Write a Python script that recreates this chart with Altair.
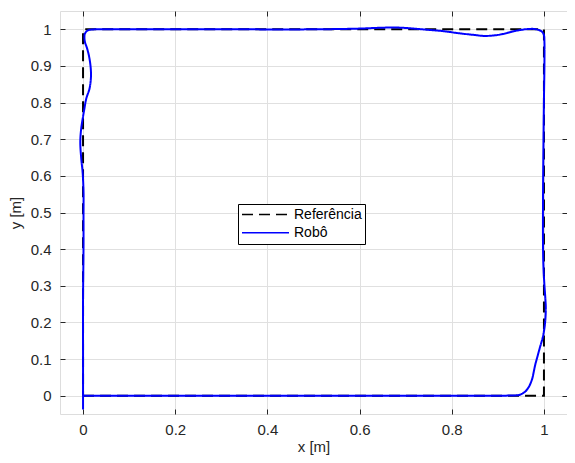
import altair as alt
import pandas as pd

# ---- data ----
series_names = ["Referência", "Robô"]

ref_x = [0.0, 1.0, 1.0, 0.0, 0.0]
ref_y = [0.0, 0.0, 1.0, 1.0, 0.0]

robot_x = [0.0, 0.5, 0.9, 0.94, 0.949, 0.960, 0.968, 0.974, 0.978, 0.981, 0.987,
           0.992, 0.997, 1.001, 1.003, 1.004, 1.003, 1.001, 0.999, 0.998, 0.998,
           0.999, 1.0, 1.001, 1.001, 1.0, 0.996, 0.989, 0.978, 0.968, 0.953, 0.932,
           0.910, 0.889, 0.868, 0.846, 0.817, 0.782, 0.746, 0.717, 0.696, 0.674,
           0.64, 0.6, 0.5, 0.3, 0.1, 0.03, 0.016, 0.009, 0.004, 0.003, 0.004,
           0.009, 0.014, 0.017, 0.017, 0.014, 0.007, 0.003, 0.0, -0.004, -0.006,
           -0.004, -0.001, 0.001, 0.001, 0.001, 0.0, 0.0, 0.0]
robot_y = [0.0, 0.0, 0.0, 0.001, 0.003, 0.012, 0.026, 0.044, 0.066, 0.084, 0.112,
           0.135, 0.157, 0.184, 0.207, 0.239, 0.266, 0.302, 0.348, 0.402, 0.55,
           0.7, 0.811, 0.902, 0.966, 0.984, 0.993, 0.998, 1.001, 1.001, 0.999, 0.994,
           0.987, 0.983, 0.982, 0.985, 0.989, 0.995, 0.999, 1.002, 1.004, 1.005,
           1.004, 1.002, 1.0, 1.0, 1.0, 1.0, 0.999, 0.996, 0.988, 0.979, 0.966,
           0.947, 0.920, 0.888, 0.866, 0.838, 0.811, 0.784, 0.762, 0.729, 0.693,
           0.648, 0.611, 0.557, 0.493, 0.402, 0.266, 0.1, -0.038]

x_ticks = [0, 0.2, 0.4, 0.6, 0.8, 1]
y_ticks = [0, 0.1, 0.2, 0.3, 0.4, 0.5, 0.6, 0.7, 0.8, 0.9, 1]

ref_df = pd.DataFrame({"x": ref_x, "y": ref_y, "serie": series_names[0],
                       "ordem": list(range(len(ref_x)))})
rob_df = pd.DataFrame({"x": robot_x, "y": robot_y, "serie": series_names[1],
                       "ordem": list(range(len(robot_x)))})

FONT = "Liberation Sans"
W, H = 507, 403

xscale = alt.Scale(domain=[-0.05, 1.05], nice=False, zero=False)
yscale = alt.Scale(domain=[-0.05, 1.05], nice=False, zero=False)

legend = alt.Legend(
    title=None, orient="none", legendX=178, legendY=193, direction="vertical",
    symbolType="stroke", symbolSize=2209, symbolStrokeWidth=1.6, clipHeight=15,
    labelFontSize=14, labelFont=FONT, labelColor="black", labelOffset=4,
    strokeColor="black", fillColor="white", padding=3, cornerRadius=0,
    rowPadding=3.3,
)

color = alt.Color("serie:N", scale=alt.Scale(domain=series_names, range=["black", "#0000ff"]),
                  legend=legend)
dash = alt.StrokeDash("serie:N", scale=alt.Scale(domain=series_names, range=[[11, 6], [1, 0]]),
                      legend=legend)

common_axis = dict(labelFont=FONT, titleFont=FONT, labelFontSize=15, titleFontSize=15,
                   titleFontWeight="normal", labelColor="#262626", titleColor="#262626",
                   tickColor="#262626", tickWidth=1, domain=False, offset=-5, tickSize=5,
                   format="~g")

x_main = alt.Axis(orient="bottom", values=x_ticks, title="x [m]", grid=True,
                  gridColor="#e0e0e0", gridWidth=1, labelPadding=8, titlePadding=2,
                  **common_axis)
y_main = alt.Axis(orient="left", values=y_ticks, title="y [m]", grid=True,
                  gridColor="#e0e0e0", gridWidth=1, labelPadding=9, titlePadding=7,
                  **common_axis)
x_top = alt.Axis(orient="top", values=x_ticks, title=None, grid=False, labels=False,
                 **common_axis)
y_right = alt.Axis(orient="right", values=y_ticks, title=None, grid=False, labels=False,
                   **common_axis)

ref_layer = alt.Chart(ref_df).mark_line(strokeWidth=2, clip=True).encode(
    x=alt.X("x:Q", scale=xscale, axis=x_main),
    y=alt.Y("y:Q", scale=yscale, axis=y_main),
    color=color, strokeDash=dash, order="ordem:Q",
)

rob_layer = alt.Chart(rob_df).mark_line(strokeWidth=2, clip=True,
                                         interpolate="catmull-rom").encode(
    x=alt.X("x:Q", scale=xscale, axis=x_top),
    y=alt.Y("y:Q", scale=yscale, axis=y_right),
    color=color, strokeDash=dash, order="ordem:Q",
)

chart = alt.layer(ref_layer, rob_layer).resolve_axis(
    x="independent", y="independent"
).properties(
    width=W, height=H, autosize="none",
    padding={"left": 52, "top": 3, "right": 0, "bottom": 41},
).configure_view(stroke="#666666", strokeWidth=1).configure(background="white")

chart.save("out.html", embed_options={"renderer": "svg", "actions": False})
